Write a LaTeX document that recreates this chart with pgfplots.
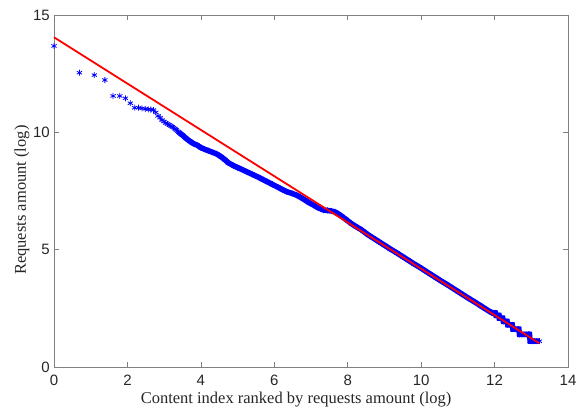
\documentclass[border=0pt]{standalone}
\usepackage{fontspec}
\setmainfont{Liberation Serif}
\newfontfamily\arial{Liberation Sans}
\usepackage{pgfplots}
\pgfplotsset{compat=1.18}
\begin{document}
\begin{tikzpicture}
\path[use as bounding box] (-54pt,-41pt) rectangle (532pt,367pt);
\begin{axis}[
  at={(0pt,0pt)}, anchor=south west,
  scale only axis, width=514pt, height=352pt,
  xmin=0, xmax=14, ymin=0, ymax=15,
  xtick={0,2,...,14}, ytick={0,5,10,15},
  minor tick num=0,
  tick align=inside, major tick length=5pt,
  axis line style={black!50, line width=0.8pt},
  tick style={black!50, line width=0.7pt},
  /pgf/number format/assume math mode=true,
  ticklabel style={font=\arial\fontsize{15}{17}\selectfont, text=black!85},
  xticklabel style={anchor=base, inner sep=0pt, yshift=-18pt},
  yticklabel style={anchor=east, inner sep=0pt, xshift=-4pt},
  every axis x label/.style={at={([yshift=-36pt]axis description cs:0.471,0)}, anchor=base},
  every axis y label/.style={at={([xshift=-28pt]axis description cs:0,0.474)}, rotate=90, anchor=base},
  label style={font=\fontsize{16.5}{19}\selectfont, text=black!85},
  xlabel={Content index ranked by requests amount (log)},
  ylabel={Requests amount (log)},
  clip=false,
  clip marker paths=true,
]
% discrete top ranks
\addplot[only marks, mark=asterisk, mark size=3pt, blue, mark options={line width=0.8pt}] coordinates {
(0.000,13.68) (0.693,12.54) (1.099,12.44) (1.386,12.23) (1.609,11.55) (1.792,11.55)
(1.946,11.45) (2.079,11.24) (2.197,11.05) (2.303,11.05) (2.398,11.02) (2.485,11.00)
(2.565,10.98) (2.639,10.97) (2.708,10.95) (2.773,10.85) (2.833,10.70) (2.890,10.62)
(2.944,10.52) (2.996,10.46) (3.045,10.40) (3.091,10.36) (3.135,10.32) (3.178,10.28)
(3.219,10.24) (3.258,10.20) (3.296,10.15) (3.332,10.10) (3.367,10.05)
};
% dense band
\addplot[blue, line width=5.5pt, mark=asterisk, mark size=3pt, mark options={line width=0.8pt}] coordinates {
(3.40,10.00) (3.50,9.88) (3.60,9.74) (3.70,9.62) (3.80,9.52) (3.90,9.45) (4.00,9.35)
(4.10,9.28) (4.20,9.22) (4.30,9.16) (4.43,9.08) (4.55,8.96) (4.65,8.84) (4.75,8.70)
(4.89,8.58) (5.00,8.50) (5.10,8.43) (5.25,8.32) (5.40,8.21) (5.55,8.10) (5.70,7.98)
(5.80,7.90) (5.95,7.78) (6.10,7.66) (6.22,7.56) (6.34,7.47) (6.48,7.40) (6.61,7.32)
(6.72,7.23) (6.85,7.10) (6.95,7.00) (7.07,6.90) (7.20,6.78) (7.34,6.69) (7.45,6.67)
(7.55,6.65) (7.65,6.61) (7.75,6.52) (7.85,6.41) (7.95,6.29) (8.10,6.11) (8.22,5.99)
(8.34,5.88) (8.43,5.78) (8.55,5.64) (8.70,5.49) (8.85,5.34) (9.00,5.19) (9.15,5.04)
(9.34,4.86) (9.50,4.70) (9.65,4.55) (9.80,4.40) (9.95,4.26) (10.10,4.11) (10.25,3.96)
(10.40,3.81) (10.55,3.66) (10.70,3.52) (10.85,3.37) (11.00,3.22) (11.15,3.07)
(11.30,2.92) (11.45,2.78) (11.60,2.63) (11.75,2.48) (11.85,2.38) (11.92,2.32)
(11.94,2.303) (11.98,2.303) (12.02,2.303)
(12.04,2.197) (12.08,2.197) (12.12,2.197)
(12.13,2.079) (12.18,2.079) (12.22,2.079)
(12.24,1.946) (12.29,1.946) (12.34,1.946)
(12.36,1.792) (12.42,1.792) (12.48,1.792)
(12.50,1.609) (12.56,1.609) (12.62,1.609) (12.66,1.609)
(12.68,1.386) (12.74,1.386) (12.80,1.386) (12.86,1.386) (12.92,1.386) (12.95,1.386)
(12.97,1.099) (13.03,1.099) (13.09,1.099) (13.15,1.099) (13.22,1.099)
};
% fitted line
\addplot[red, line width=1.8pt] coordinates {(0,14.05) (13.22,1.01)};
\end{axis}
\end{tikzpicture}
\end{document}
